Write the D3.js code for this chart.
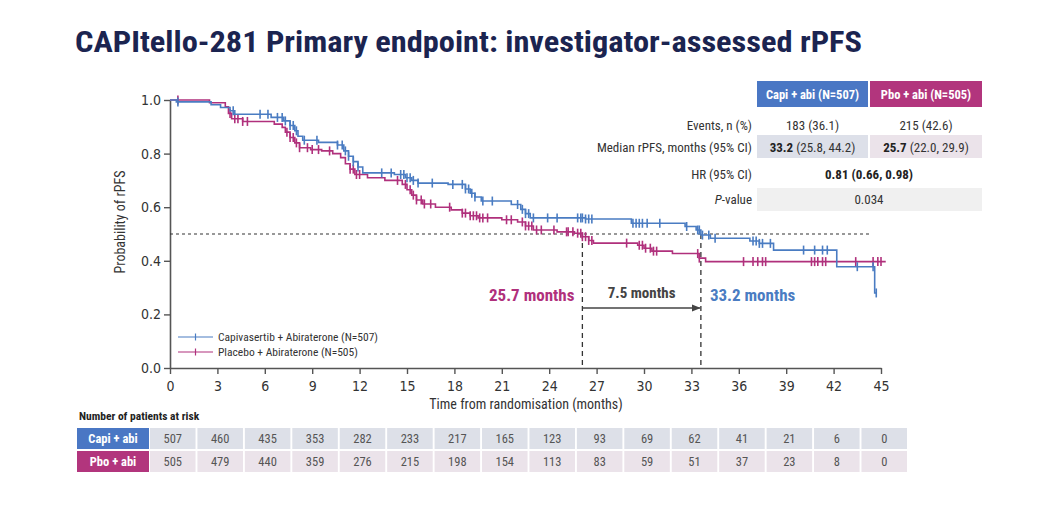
<!DOCTYPE html>
<html>
<head>
<meta charset="utf-8">
<script src="https://cdn.jsdelivr.net/npm/d3@7"></script>
<style>
  body { margin: 0; background: #fff; }
  svg text { font-family: "Liberation Sans Narrow", "Arial Narrow", "Roboto Condensed", "DejaVu Sans Condensed", "Liberation Sans", sans-serif; }
</style>
</head>
<body>
<div id="chart"></div>
<script>
// ---- data ----
var title = "CAPItello-281 Primary endpoint: investigator-assessed rPFS";

// Kaplan-Meier steps: [time (months), survival after step]
var capiSteps = [[0,1.0],[0.4,0.993],[2.6,0.982],[3.2,0.972],[3.8,0.96],[4.1,0.947],[6.4,0.935],[7.2,0.922],
  [7.6,0.905],[7.9,0.885],[8.1,0.865],[8.4,0.85],[9.4,0.842],[10.6,0.832],[11.0,0.81],[11.3,0.79],[11.6,0.77],
  [11.9,0.75],[12.2,0.728],[14.2,0.722],[14.9,0.71],[15.3,0.70],[15.7,0.69],[17.6,0.685],[18.7,0.668],[19.0,0.652],
  [19.3,0.638],[19.7,0.623],[21.6,0.61],[22.2,0.592],[22.5,0.576],[22.8,0.56],[26.3,0.556],[29.2,0.54],[32.6,0.528],
  [33.3,0.515],[33.6,0.496],[34.2,0.484],[36.7,0.474],[37.3,0.465],[38.2,0.44],[42.2,0.378],[44.6,0.28]];
var capiEnd = 44.7;
var pboSteps = [[0,1.0],[2.5,0.99],[3.5,0.975],[3.7,0.95],[3.9,0.93],[4.6,0.92],[6.6,0.91],[7.1,0.898],[7.3,0.88],
  [7.6,0.86],[7.9,0.84],[8.2,0.822],[8.9,0.815],[9.6,0.81],[10.3,0.80],[10.8,0.785],[11.1,0.762],[11.4,0.742],
  [11.7,0.722],[12.5,0.71],[13.6,0.70],[14.7,0.685],[15.0,0.665],[15.3,0.645],[15.6,0.627],[16.0,0.612],[16.8,0.60],
  [17.8,0.59],[18.5,0.578],[19.0,0.568],[19.5,0.56],[21.0,0.553],[22.0,0.545],[22.5,0.53],[23.0,0.515],[24.5,0.508],
  [25.6,0.503],[26.1,0.49],[26.5,0.476],[26.8,0.466],[29.6,0.458],[30.0,0.447],[30.5,0.436],[31.8,0.427],[33.5,0.41],
  [33.9,0.397]];
var pboEnd = 45.3;

// censoring marks (months)
var capiCensor = [0.5,4.0,5.7,6.2,6.8,7.1,7.3,7.6,7.8,8.0,8.5,9.3,10.6,10.9,11.1,11.3,11.6,11.9,13.4,14.0,14.6,14.8,
  15.0,15.2,15.4,15.7,16.6,17.9,18.5,18.7,18.9,19.1,19.3,19.8,20.4,22.0,22.3,22.5,22.7,23.0,23.9,24.5,25.8,26.0,
  26.1,26.3,26.5,26.7,29.3,29.5,29.7,29.9,30.2,31.0,32.7,33.4,33.5,33.7,34.1,34.5,36.9,37.1,37.3,37.5,38.0,40.1,
  40.8,41.3,41.6,43.5,44.5,44.7];
var pboCensor = [0.5,3.8,4.1,4.3,4.6,4.9,7.4,7.6,7.8,8.0,8.2,8.7,9.0,9.4,10.1,11.4,11.6,11.8,12.0,14.4,14.9,15.2,
  15.4,15.6,15.9,16.1,16.5,17.7,18.5,18.7,19.0,19.2,19.4,19.6,19.8,20.1,21.3,21.6,22.3,22.5,22.7,22.9,23.2,23.5,
  24.3,25.1,25.2,25.5,25.8,26.0,26.1,26.3,26.5,26.7,28.9,29.7,29.9,30.1,30.4,30.6,30.8,33.4,33.5,36.3,36.9,37.2,
  37.5,37.7,40.6,40.8,41.0,41.3,41.5,43.4,44.5,44.8,45.0];

var seriesNames = ["Capivasertib + Abiraterone (N=507)", "Placebo + Abiraterone (N=505)"];
var xTicks = [0,3,6,9,12,15,18,21,24,27,30,33,36,39,42,45];
var yTicks = [0,0.2,0.4,0.6,0.8,1.0];

// summary table
var statHeaders = ["Capi + abi (N=507)", "Pbo + abi (N=505)"];
var statLabels = ["Events, n (%)", "Median rPFS, months (95% CI)", "HR (95% CI)", "P-value"];
var capiStats = [["", "183 (36.1)"], ["33.2", " (25.8, 44.2)"]];
var pboStats = [["", "215 (42.6)"], ["25.7", " (22.0, 29.9)"]];
var hrText = "0.81 (0.66, 0.98)";
var pText = "0.034";
var medianLabels = ["25.7 months", "7.5 months", "33.2 months"];

// at risk
var riskLabels = ["Capi + abi", "Pbo + abi"];
var capiRisk = [507,460,435,353,282,233,217,165,123,93,69,62,41,21,6,0];
var pboRisk = [505,479,440,359,276,215,198,154,113,83,59,51,37,23,8,0];

// ---- drawing ----
var width = 1038, height = 518;
var blue = "#4a7cc2", pink = "#b0307c";
var blueHead = "#4a77c4", pinkHead = "#b2357d";

var svg = d3.select("#chart").append("svg")
    .attr("width", width)
    .attr("height", height);

svg.append("text")
    .attr("x", 75).attr("y", 52)
    .attr("textLength", 787).attr("lengthAdjust", "spacingAndGlyphs")
    .attr("font-size", 30).attr("font-weight", "bold")
    .attr("fill", "#1b2450")
    .text(title);

var x = d3.scaleLinear().domain([0, 45]).range([170, 881]);
var y = d3.scaleLinear().domain([0, 1]).range([368, 100]);

// axes
var gx = svg.append("g").attr("transform", "translate(0," + y(0) + ")")
    .call(d3.axisBottom(x).tickValues(xTicks).tickSize(6).tickSizeOuter(0));
var gy = svg.append("g").attr("transform", "translate(" + x(0) + ",0)")
    .call(d3.axisLeft(y).tickValues(yTicks).tickFormat(d3.format(".1f")).tickSize(6).tickSizeOuter(0));
[gx, gy].forEach(function(g) {
    g.select(".domain").attr("stroke", "#555").attr("stroke-width", 1.6);
    g.selectAll(".tick line").attr("stroke", "#555").attr("stroke-width", 1.4);
    g.selectAll(".tick text").attr("fill", "#333").attr("font-size", 14)
      .style("font-family", "'Liberation Sans Narrow', 'Arial Narrow', 'DejaVu Sans Condensed', sans-serif");
});
gx.selectAll(".tick text").attr("dy", "1.0em");

svg.append("text")
    .attr("transform", "translate(125," + 222 + ") rotate(-90)")
    .attr("text-anchor", "middle").attr("font-size", 14).attr("fill", "#333")
    .text("Probability of rPFS");
svg.append("text")
    .attr("x", 526).attr("y", 409)
    .attr("text-anchor", "middle").attr("font-size", 14).attr("fill", "#333")
    .text("Time from randomisation (months)");

// step helpers
function survAt(steps, t) {
    var i = d3.bisector(function(d) { return d[0]; }).right(steps, t) - 1;
    return steps[Math.max(0, i)][1];
}
function medianTime(steps) {
    for (var i = 0; i < steps.length; i++) if (steps[i][1] < 0.5) return steps[i][0];
}

// median reference lines
var mPbo = medianTime(pboSteps), mCapi = medianTime(capiSteps);
svg.append("line")
    .attr("x1", x(0)).attr("x2", 870).attr("y1", y(0.5)).attr("y2", y(0.5))
    .attr("stroke", "#333").attr("stroke-width", 1.1).attr("stroke-dasharray", "3,3");
[mPbo, mCapi].forEach(function(m) {
    svg.append("line")
        .attr("x1", x(m)).attr("x2", x(m)).attr("y1", y(0.5)).attr("y2", y(0))
        .attr("stroke", "#333").attr("stroke-width", 1.3).attr("stroke-dasharray", "5,4");
});

// KM curves
var line = d3.line().x(function(d) { return x(d[0]); }).y(function(d) { return y(d[1]); })
    .curve(d3.curveStepAfter);
var arms = [
    { steps: pboSteps, end: pboEnd, censor: pboCensor, color: pink },
    { steps: capiSteps, end: capiEnd, censor: capiCensor, color: blue }
];
arms.forEach(function(a) {
    var pts = a.steps.concat([[a.end, a.steps[a.steps.length - 1][1]]]);
    svg.append("path").datum(pts)
        .attr("d", line).attr("fill", "none")
        .attr("stroke", a.color).attr("stroke-width", 1.6);
    svg.append("g").selectAll("line").data(a.censor).join("line")
        .attr("x1", function(d) { return x(d); }).attr("x2", function(d) { return x(d); })
        .attr("y1", function(d) { return y(survAt(a.steps, d)) - 4.5; })
        .attr("y2", function(d) { return y(survAt(a.steps, d)) + 4.5; })
        .attr("stroke", a.color).attr("stroke-width", 1.6);
});

// median annotations
var defs = svg.append("defs");
defs.append("marker").attr("id", "arr").attr("viewBox", "0 0 10 10")
    .attr("refX", 9).attr("refY", 5).attr("markerWidth", 7).attr("markerHeight", 7)
    .attr("orient", "auto")
    .append("path").attr("d", "M0,1L10,5L0,9z").attr("fill", "#444");
svg.append("line")
    .attr("x1", x(mPbo)).attr("x2", x(mCapi) - 1).attr("y1", 308).attr("y2", 308)
    .attr("stroke", "#444").attr("stroke-width", 1.3).attr("marker-end", "url(#arr)");
svg.append("text").attr("x", x(mPbo) - 8).attr("y", 301)
    .attr("text-anchor", "end").attr("font-size", 17).attr("font-weight", "bold").attr("fill", pink)
    .text(medianLabels[0]);
svg.append("text").attr("x", (x(mPbo) + x(mCapi)) / 2).attr("y", 298)
    .attr("text-anchor", "middle").attr("font-size", 15).attr("font-weight", "bold").attr("fill", "#444")
    .text(medianLabels[1]);
svg.append("text").attr("x", x(mCapi) + 9).attr("y", 301)
    .attr("font-size", 17).attr("font-weight", "bold").attr("fill", blue)
    .text(medianLabels[2]);

// legend
var legend = svg.append("g").selectAll("g").data(seriesNames).join("g")
    .attr("transform", function(d, i) { return "translate(178," + (337 + i * 15) + ")"; });
legend.append("line").attr("x1", 0).attr("x2", 35).attr("y1", 0).attr("y2", 0)
    .attr("stroke", function(d, i) { return i ? pink : blue; }).attr("stroke-width", 1.2);
legend.append("line").attr("x1", 17.5).attr("x2", 17.5).attr("y1", -3.5).attr("y2", 3.5)
    .attr("stroke", function(d, i) { return i ? pink : blue; }).attr("stroke-width", 1.2);
legend.append("text").attr("x", 40).attr("y", 4).attr("font-size", 11.5).attr("fill", "#333")
    .text(function(d) { return d; });

// summary table
var cols = [{ x0: 757, x1: 868 }, { x0: 870, x1: 982 }];
var rowY = [125, 147, 174, 199];
var head = svg.append("g");
statHeaders.forEach(function(h, i) {
    head.append("rect").attr("x", cols[i].x0).attr("y", 81).attr("width", cols[i].x1 - cols[i].x0).attr("height", 26)
        .attr("fill", i ? pinkHead : blueHead);
    head.append("text").attr("x", (cols[i].x0 + cols[i].x1) / 2).attr("y", 98.5)
        .attr("text-anchor", "middle").attr("font-size", 12.5).attr("font-weight", "bold").attr("fill", "#fff")
        .text(h);
});
svg.append("rect").attr("x", cols[0].x0).attr("y", 135).attr("width", cols[0].x1 - cols[0].x0).attr("height", 23).attr("fill", "#dde0e9");
svg.append("rect").attr("x", cols[1].x0).attr("y", 135).attr("width", cols[1].x1 - cols[1].x0).attr("height", 23).attr("fill", "#ebe3ea");
svg.append("rect").attr("x", cols[0].x0).attr("y", 188).attr("width", cols[1].x1 - cols[0].x0).attr("height", 23).attr("fill", "#f0f0f0");

statLabels.forEach(function(l, i) {
    var t = svg.append("text").attr("x", 752).attr("y", rowY[i] + 4.5)
        .attr("text-anchor", "end").attr("font-size", 13).attr("fill", "#333");
    if (l === "P-value") {
        t.append("tspan").attr("font-style", "italic").text("P");
        t.append("tspan").text("-value");
    } else t.text(l);
});
[capiStats, pboStats].forEach(function(s, c) {
    s.forEach(function(v, r) {
        var t = svg.append("text").attr("x", (cols[c].x0 + cols[c].x1) / 2).attr("y", rowY[r] + 4.5)
            .attr("text-anchor", "middle").attr("font-size", 13).attr("fill", "#333");
        if (v[0]) t.append("tspan").attr("font-weight", "bold").attr("fill", "#222").text(v[0]);
        t.append("tspan").text(v[1]);
    });
});
svg.append("text").attr("x", 869).attr("y", rowY[2] + 4.5).attr("text-anchor", "middle")
    .attr("font-size", 13).attr("font-weight", "bold").attr("fill", "#222").text(hrText);
svg.append("text").attr("x", 869).attr("y", rowY[3] + 4.5).attr("text-anchor", "middle")
    .attr("font-size", 13).attr("fill", "#333").text(pText);

// risk table
svg.append("text").attr("x", 79).attr("y", 420)
    .attr("font-size", 11.5).attr("font-weight", "bold").attr("fill", "#222")
    .text("Number of patients at risk");
var band = d3.scaleBand().domain(d3.range(capiRisk.length)).range([150, 907]).paddingInner(0.04);
var riskRows = [capiRisk, pboRisk];
riskRows.forEach(function(vals, r) {
    var y0 = 428 + r * 23;
    svg.append("rect").attr("x", 77).attr("y", y0).attr("width", 72).attr("height", 21)
        .attr("fill", r ? pinkHead : blueHead);
    svg.append("text").attr("x", 113).attr("y", y0 + 15).attr("text-anchor", "middle")
        .attr("font-size", 12.5).attr("font-weight", "bold").attr("fill", "#fff").text(riskLabels[r]);
    var g = svg.append("g");
    g.selectAll("rect").data(vals).join("rect")
        .attr("x", function(d, i) { return band(i); }).attr("y", y0)
        .attr("width", band.bandwidth()).attr("height", 21)
        .attr("fill", r ? "#ebe3ea" : "#dde0e8");
    g.selectAll("text").data(vals).join("text")
        .attr("x", function(d, i) { return band(i) + band.bandwidth() / 2; }).attr("y", y0 + 15)
        .attr("text-anchor", "middle").attr("font-size", 12.5).attr("fill", "#555")
        .text(function(d) { return d; });
});
</script>
</body>
</html>
